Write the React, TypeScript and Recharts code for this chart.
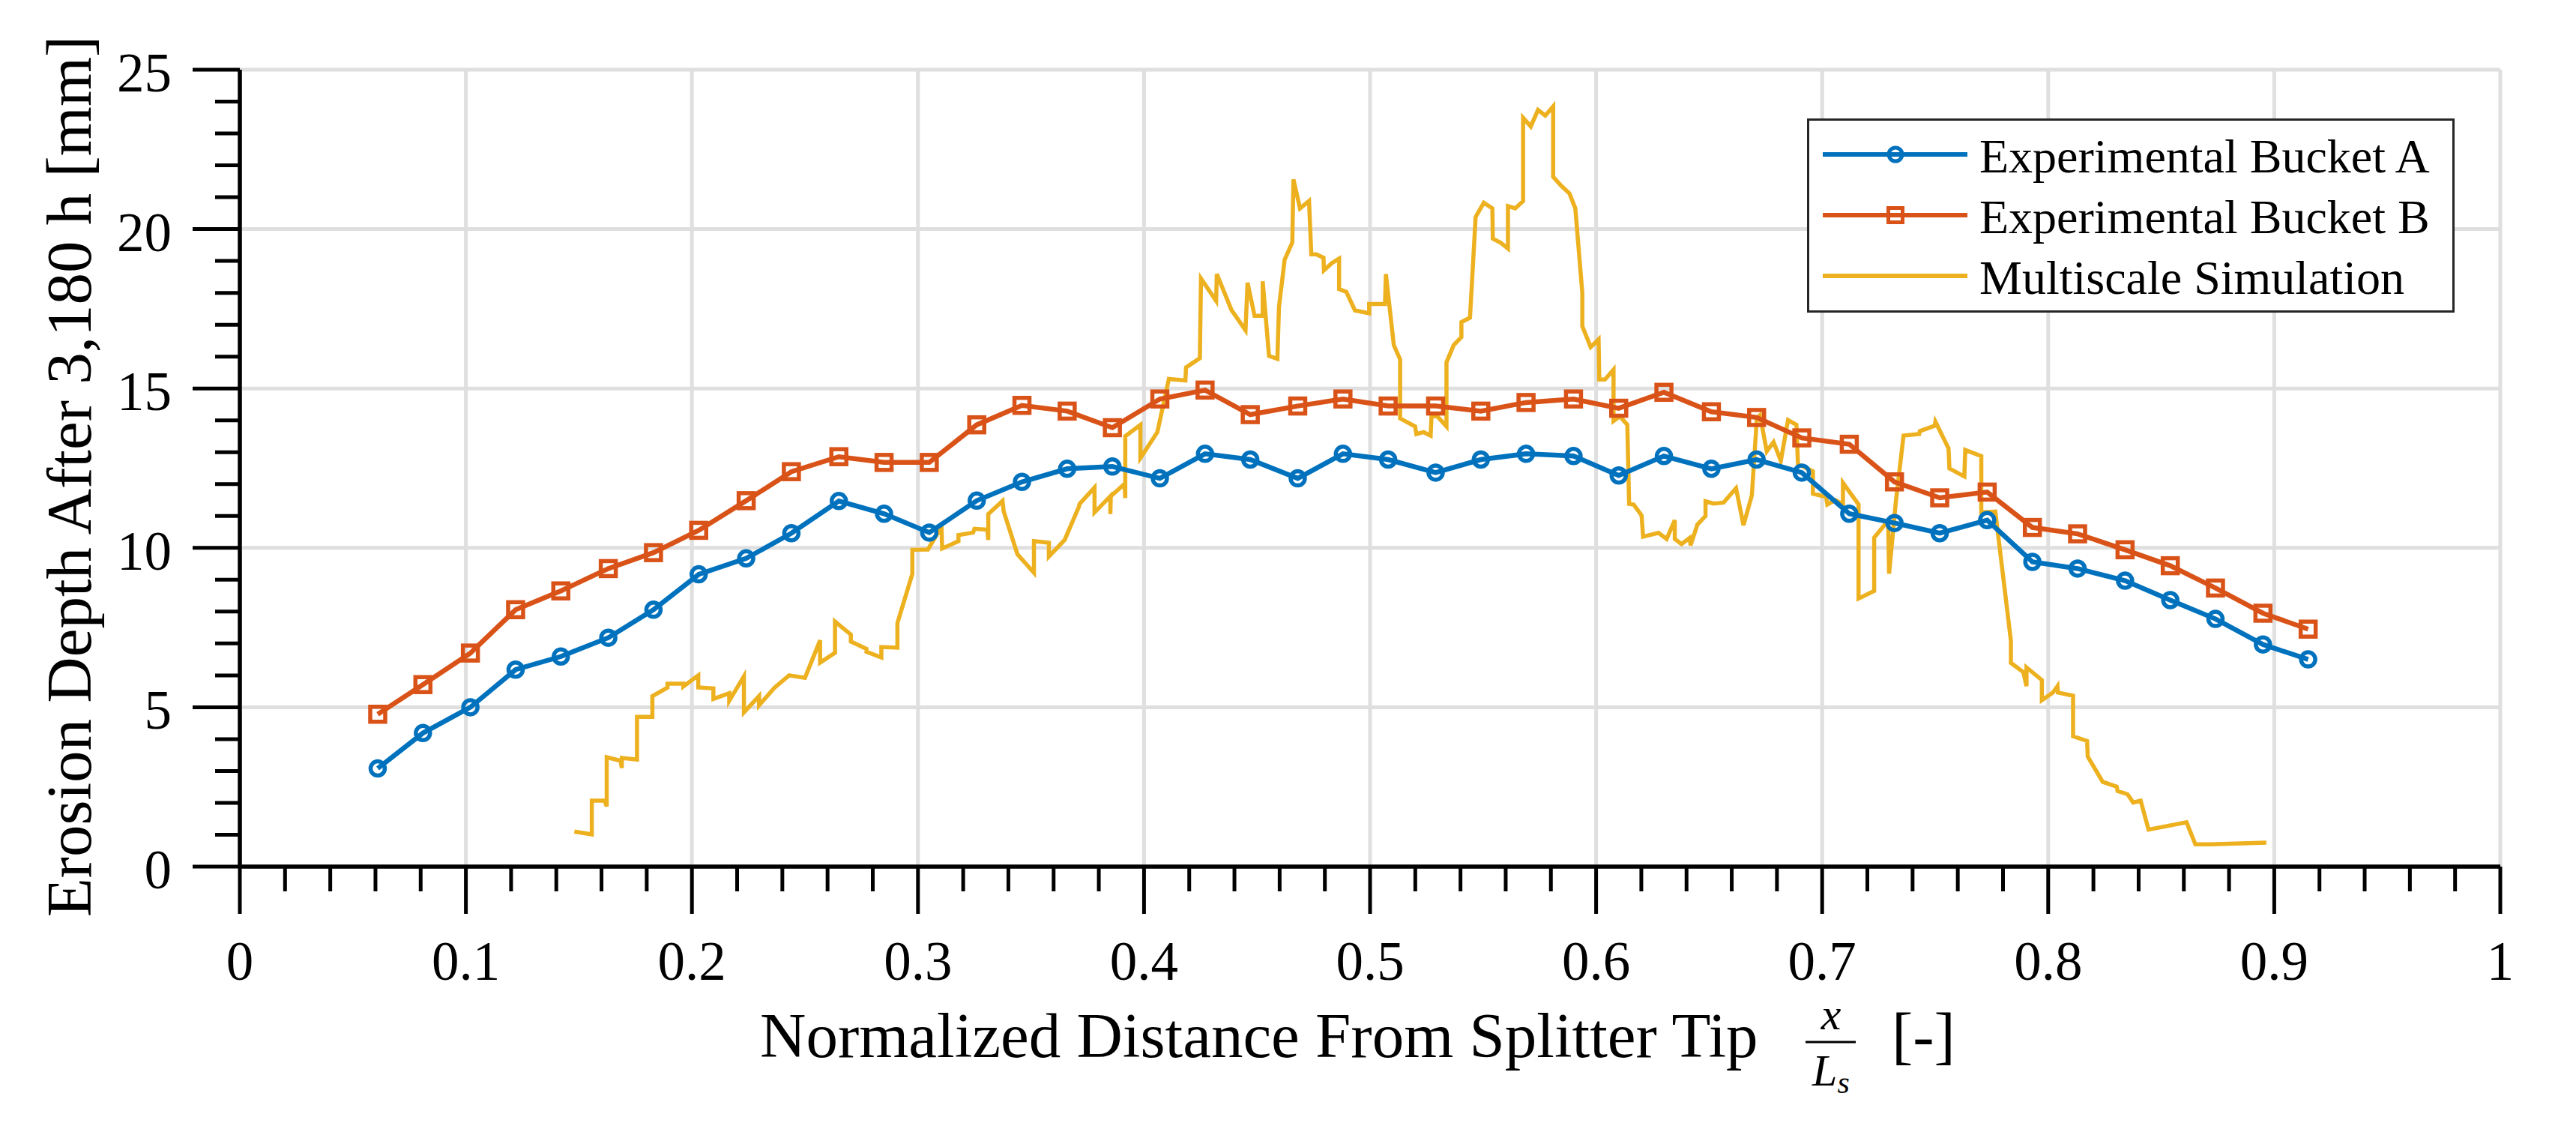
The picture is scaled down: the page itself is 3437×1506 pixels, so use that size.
import { LineChart, Line, XAxis, YAxis, CartesianGrid, Legend } from "recharts";

const FONT = "'Liberation Serif', 'Times New Roman', serif";
const COLOR_A = "#0072BD";
const COLOR_B = "#D95319";
const COLOR_SIM = "#EDB120";

// measurement stations along the splitter (shared by both buckets)
const bucketX = [
  0.061, 0.081, 0.102, 0.122, 0.142, 0.163, 0.183, 0.203, 0.224, 0.244, 0.265, 0.285, 0.305,
  0.326, 0.346, 0.366, 0.386, 0.407, 0.427, 0.447, 0.468, 0.488, 0.508, 0.529, 0.549, 0.569,
  0.59, 0.61, 0.63, 0.651, 0.671, 0.691, 0.712, 0.732, 0.752, 0.773, 0.793, 0.813, 0.834,
  0.854, 0.874, 0.895, 0.915,
];

const bucketA = [
  3.08, 4.19, 5.0, 6.18, 6.59, 7.18, 8.06, 9.17, 9.67, 10.46, 11.47, 11.07, 10.48, 11.48, 12.07,
  12.48, 12.55, 12.18, 12.95, 12.77, 12.18, 12.95, 12.77, 12.36, 12.77, 12.95, 12.88, 12.27,
  12.88, 12.48, 12.77, 12.36, 11.07, 10.78, 10.46, 10.87, 9.56, 9.35, 8.97, 8.36, 7.77, 6.97, 6.5,
];

const bucketB = [
  4.78, 5.71, 6.7, 8.06, 8.65, 9.35, 9.85, 10.55, 11.48, 12.39, 12.86, 12.68, 12.68, 13.86, 14.47,
  14.29, 13.77, 14.67, 14.95, 14.18, 14.45, 14.67, 14.45, 14.45, 14.29, 14.56, 14.67, 14.38,
  14.88, 14.27, 14.09, 13.45, 13.25, 12.07, 11.57, 11.75, 10.64, 10.44, 9.94, 9.44, 8.74, 7.95, 7.45,
];

// multiscale simulation trace (in drawing order)
const simX = [
  0.148, 0.1557, 0.1557, 0.1614, 0.1623, 0.1623, 0.1684, 0.169, 0.169, 0.1757, 0.1757, 0.1825,
  0.1825, 0.1892, 0.1892, 0.1962, 0.1962, 0.2028, 0.2028, 0.2095, 0.2095, 0.2165, 0.2165, 0.223,
  0.223, 0.2297, 0.2297, 0.2365, 0.243, 0.25, 0.2567, 0.2567, 0.2633, 0.2633, 0.2703, 0.2703,
  0.2772, 0.2772, 0.2838, 0.2838, 0.2909, 0.2909, 0.2975, 0.2975, 0.3044, 0.3104, 0.3107, 0.3179,
  0.3179, 0.3244, 0.325, 0.3307, 0.3311, 0.3311, 0.3374, 0.3379, 0.344, 0.3513, 0.3513, 0.3579,
  0.3579, 0.3649, 0.3712, 0.3715, 0.3781, 0.3781, 0.3851, 0.3851, 0.3853, 0.3914, 0.3917, 0.3917,
  0.3984, 0.3984, 0.4059, 0.411, 0.4183, 0.4186, 0.4247, 0.4252, 0.4319, 0.4322, 0.4387, 0.4449,
  0.4458, 0.4489, 0.4525, 0.4525, 0.4553, 0.459, 0.4597, 0.4622, 0.4656, 0.4661, 0.469, 0.473,
  0.474, 0.4762, 0.4794, 0.4796, 0.4832, 0.4863, 0.4863, 0.4895, 0.4933, 0.4996, 0.4996, 0.5066,
  0.507, 0.5105, 0.5133, 0.5133, 0.5199, 0.5205, 0.5237, 0.5268, 0.5272, 0.53, 0.5338, 0.5338,
  0.537, 0.5404, 0.5404, 0.5442, 0.5467, 0.5503, 0.5541, 0.5543, 0.5578, 0.561, 0.561, 0.5642,
  0.5677, 0.5677, 0.5711, 0.5743, 0.5775, 0.581, 0.581, 0.5844, 0.5882, 0.5908, 0.5939, 0.5939,
  0.5976, 0.6011, 0.6014, 0.6039, 0.6077, 0.6077, 0.6105, 0.6138, 0.6146, 0.6166, 0.6201, 0.6208,
  0.6276, 0.6312, 0.6348, 0.6348, 0.6378, 0.6414, 0.6418, 0.6448, 0.6484, 0.6484, 0.6519, 0.6564,
  0.6619, 0.6652, 0.6689, 0.6711, 0.6725, 0.6755, 0.6785, 0.6817, 0.6849, 0.6886, 0.6893, 0.6934,
  0.6959, 0.6959, 0.7017, 0.7023, 0.7058, 0.7092, 0.7092, 0.7161, 0.7161, 0.723, 0.723, 0.7292,
  0.7296, 0.7326, 0.736, 0.7429, 0.7432, 0.7498, 0.7501, 0.7559, 0.7563, 0.7629, 0.7633, 0.7704,
  0.7704, 0.7766, 0.7835, 0.7835, 0.789, 0.7904, 0.7904, 0.7972, 0.7972, 0.8021, 0.8041, 0.8043,
  0.811, 0.811, 0.8172, 0.8175, 0.8241, 0.8303, 0.8307, 0.8351, 0.8376, 0.8409, 0.8444, 0.8612,
  0.8651, 0.872, 0.8965,
];

const simY = [
  1.1, 1.01, 2.07, 2.07, 1.89, 3.43, 3.32, 3.09, 3.41, 3.36, 4.7, 4.7, 5.35, 5.62, 5.74, 5.74,
  5.65, 6.0, 5.62, 5.59, 5.26, 5.44, 5.2, 5.97, 4.84, 5.35, 5.06, 5.61, 6.0, 5.92, 7.1, 6.4, 6.71,
  7.69, 7.28, 7.06, 6.83, 6.74, 6.56, 6.89, 6.87, 7.64, 9.18, 9.94, 9.95, 10.66, 9.98, 10.21,
  10.4, 10.48, 10.6, 10.57, 10.25, 11.06, 11.47, 11.15, 9.8, 9.22, 10.21, 10.16, 9.73, 10.25,
  11.29, 11.38, 11.89, 11.11, 11.62, 11.06, 11.62, 12.01, 11.56, 13.5, 13.86, 12.82, 13.63, 15.3,
  15.25, 15.66, 15.95, 18.45, 17.75, 18.59, 17.46, 16.83, 18.32, 17.28, 17.28, 18.36, 16.02,
  15.93, 17.55, 19.04, 19.58, 21.56, 20.65, 20.88, 19.21, 19.21, 19.1, 18.71, 18.94, 19.07, 18.12,
  18.03, 17.45, 17.36, 17.65, 17.65, 18.59, 16.36, 15.91, 14.06, 13.81, 13.57, 13.63, 13.52,
  14.17, 14.11, 13.81, 15.82, 16.36, 16.61, 17.08, 17.22, 20.38, 20.83, 20.65, 19.7, 19.57, 19.39,
  20.72, 20.65, 20.88, 23.49, 23.22, 23.74, 23.56, 23.85, 21.64, 21.37, 21.12, 20.65, 17.99,
  16.95, 16.3, 16.54, 15.28, 15.28, 15.59, 13.98, 14.13, 13.86, 11.38, 11.36, 11.02, 10.35, 10.47,
  10.28, 10.87, 10.28, 10.12, 10.31, 10.08, 10.73, 11.0, 11.46, 11.39, 11.42, 11.87, 10.71, 11.65,
  14.06, 14.16, 13.03, 13.32, 12.73, 14.01, 13.86, 12.63, 12.49, 12.4, 11.7, 11.6, 11.36, 11.5,
  11.36, 12.04, 11.36, 8.41, 8.65, 10.32, 10.86, 9.19, 11.45, 13.52, 13.57, 13.66, 13.83, 13.96,
  13.12, 12.49, 12.24, 13.07, 12.88, 11.11, 11.14, 7.08, 6.39, 6.1, 5.66, 6.25, 5.85, 5.22, 5.46,
  5.66, 5.46, 5.36, 4.09, 3.94, 3.45, 2.66, 2.51, 2.37, 2.27, 2.01, 2.07, 1.16, 1.39, 0.7, 0.7,
  0.75,
];

const seriesNames = ["Experimental Bucket A", "Experimental Bucket B", "Multiscale Simulation"];

// labelled (major) ticks, also where the grid lines go
const xTicks = [0, 0.1, 0.2, 0.3, 0.4, 0.5, 0.6, 0.7, 0.8, 0.9, 1];
const yTicks = [0, 5, 10, 15, 20, 25];
// all tick marks: every 0.02 on x, every 1 on y
const xAllTicks = Array.from({ length: 51 }, (_, i) => (i * 2) / 100);
const yAllTicks = Array.from({ length: 26 }, (_, i) => i);

const dataA = bucketX.map((x, i) => ({ x, y: bucketA[i] }));
const dataB = bucketX.map((x, i) => ({ x, y: bucketB[i] }));
const dataSim = simX.map((x, i) => ({ x, y: simY[i] }));

function CircleMarker(props: any) {
  const { cx, cy, index } = props;
  if (cx == null || cy == null) return null;
  return <circle key={`a-${index}`} cx={cx} cy={cy} r={9.5} fill="none" stroke={COLOR_A} strokeWidth={5.5} />;
}

function SquareMarker(props: any) {
  const { cx, cy, index } = props;
  if (cx == null || cy == null) return null;
  return (
    <rect key={`b-${index}`} x={cx - 10} y={cy - 10} width={20} height={20} fill="none" stroke={COLOR_B} strokeWidth={5.5} />
  );
}

// tick mark + label drawn by hand so majors are long and minors short
function XTick(props: any) {
  const { x, y, payload } = props;
  const major = xTicks.includes(payload.value);
  return (
    <g>
      <line x1={x} x2={x} y1={y} y2={y + (major ? 63 : 33)} stroke="#000" strokeWidth={5} />
      {major && (
        <text x={x} y={y + 151} textAnchor="middle" fontFamily={FONT} fontSize={73} fill="#000">
          {String(payload.value)}
        </text>
      )}
    </g>
  );
}

function YTick(props: any) {
  const { x, y, payload } = props;
  const major = yTicks.includes(payload.value);
  return (
    <g>
      <line x1={x} x2={x - (major ? 63 : 33)} y1={y} y2={y} stroke="#000" strokeWidth={5} />
      {major && (
        <text x={x - 91} y={y + 29} textAnchor="end" fontFamily={FONT} fontSize={73} fill="#000">
          {String(payload.value)}
        </text>
      )}
    </g>
  );
}

function YLabel(props: any) {
  const { x, y, width, height } = props.viewBox;
  const lx = x + width - 199;
  const ly = y + height / 2 + 11;
  return (
    <text x={lx} y={ly} transform={`rotate(-90 ${lx} ${ly})`} textAnchor="middle" fontFamily={FONT} fontSize={85} fill="#000">
      Erosion Depth After 3,180 h [mm]
    </text>
  );
}

// words, then the x / L_s fraction (kept small so the two rows don't collide), then the unit
function XLabel(props: any) {
  const { x, y, width } = props.viewBox;
  const cx = x + width / 2;
  return (
    <g fill="#000" fontFamily={FONT}>
      <text x={cx - 814} y={y + 254} fontSize={85}>
        Normalized Distance From Splitter Tip
      </text>
      <text x={cx + 615} y={y + 217} fontSize={60} fontStyle="italic" textAnchor="middle">
        x
      </text>
      <line x1={cx + 581} x2={cx + 648} y1={y + 234} y2={y + 234} stroke="#000" strokeWidth={3} />
      <text x={cx + 590} y={y + 292} fontSize={60} fontStyle="italic">
        L<tspan fontSize={42} dy={10}>s</tspan>
      </text>
      <text x={cx + 696} y={y + 254} fontSize={85}>
        [-]
      </text>
    </g>
  );
}

function LegendBox(props: any) {
  const items = [...(props.payload || [])].sort(
    (a: any, b: any) => seriesNames.indexOf(a.value) - seriesNames.indexOf(b.value)
  );
  return (
    <svg width={864} height={259} style={{ display: "block" }}>
      <rect x={1.5} y={1.5} width={861} height={256} fill="#fff" stroke="#262626" strokeWidth={3} />
      {items.map((item: any, i: number) => {
        const cy = 48 + i * 81;
        const name = item.value;
        return (
          <g key={name}>
            <line x1={21} x2={214} y1={cy} y2={cy} stroke={item.color} strokeWidth={6} />
            {name === seriesNames[0] && (
              <circle cx={118} cy={cy} r={9} fill="none" stroke={COLOR_A} strokeWidth={5} />
            )}
            {name === seriesNames[1] && (
              <rect x={108.5} y={cy - 9.5} width={19} height={19} fill="none" stroke={COLOR_B} strokeWidth={5} />
            )}
            <text x={230} y={cy + 24} fontFamily={FONT} fontSize={64} fill="#000">
              {name}
            </text>
          </g>
        );
      })}
    </svg>
  );
}

export default function App() {
  return (
    <div style={{ position: "absolute", left: 0, top: 0, width: 3437, height: 1506, background: "#fff" }}>
      {/* axes get a 1px size: Recharts skips drawing an axis of size 0 */}
      <LineChart width={3437} height={1506} margin={{ top: 93, right: 101, bottom: 349, left: 319 }}>
        <CartesianGrid stroke="#dfdfdf" strokeWidth={5} verticalValues={xTicks} horizontalValues={yTicks} />
        <XAxis
          dataKey="x"
          type="number"
          domain={[0, 1]}
          allowDataOverflow
          ticks={xAllTicks}
          interval={0}
          height={1}
          tickSize={0}
          tickMargin={0}
          tick={<XTick />}
          tickLine={false}
          axisLine={{ stroke: "#000", strokeWidth: 5.5 }}
          label={<XLabel />}
        />
        <YAxis
          type="number"
          domain={[0, 25]}
          allowDataOverflow
          ticks={yAllTicks}
          interval={0}
          width={1}
          tickSize={0}
          tickMargin={0}
          tick={<YTick />}
          tickLine={false}
          axisLine={{ stroke: "#000", strokeWidth: 5.5 }}
          label={<YLabel />}
        />
        <Legend
          layout="vertical"
          align="center"
          verticalAlign="middle"
          wrapperStyle={{ left: 2411, top: 158, width: 864, height: 259 }}
          content={<LegendBox />}
        />
        <Line
          data={dataSim}
          dataKey="y"
          name={seriesNames[2]}
          type="linear"
          stroke={COLOR_SIM}
          strokeWidth={5.5}
          dot={false}
          activeDot={false}
          isAnimationActive={false}
        />
        <Line
          data={dataB}
          dataKey="y"
          name={seriesNames[1]}
          type="linear"
          stroke={COLOR_B}
          strokeWidth={6.5}
          dot={<SquareMarker />}
          activeDot={false}
          isAnimationActive={false}
        />
        <Line
          data={dataA}
          dataKey="y"
          name={seriesNames[0]}
          type="linear"
          stroke={COLOR_A}
          strokeWidth={6.5}
          dot={<CircleMarker />}
          activeDot={false}
          isAnimationActive={false}
        />
      </LineChart>
    </div>
  );
}
